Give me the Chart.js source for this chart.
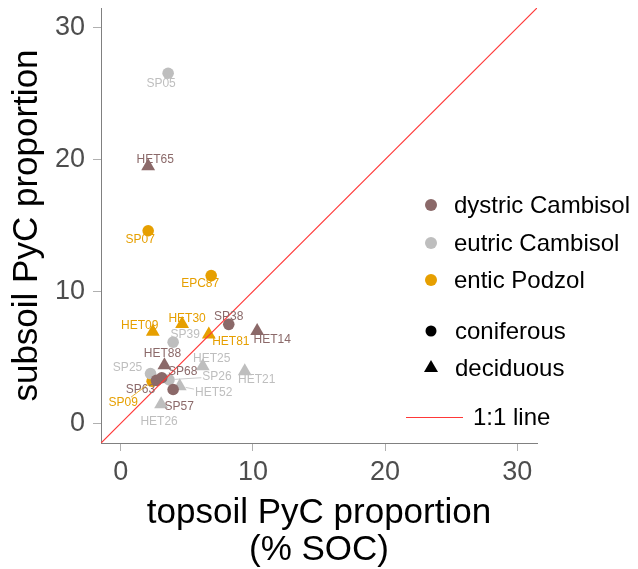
<!DOCTYPE html>
<html>
<head>
<meta charset="utf-8">
<script src="https://cdn.jsdelivr.net/npm/chart.js@4.4.0/dist/chart.umd.min.js"></script>
<style>
  body { margin: 0; background: #fff; }
  #wrap { width: 638px; height: 569px; }
</style>
</head>
<body>
<div id="wrap"><canvas id="pycChart" width="638" height="569"></canvas></div>
<script>
// valores (% SOC)
var sampleIds = ['HET65', 'SP38', 'HET14', 'HET88', 'SP63', 'SP68', 'SP57',
                 'SP05', 'SP39', 'HET25', 'HET21', 'SP25', 'SP26', 'HET52', 'HET26',
                 'SP07', 'EPC87', 'HET30', 'HET09', 'HET81', 'SP09'];
var topsoil = [2.07, 8.17, 10.32, 3.3, 2.7, 3.1, 3.96,
               3.58, 3.96, 6.2, 9.38, 2.25, 3.65, 4.46, 3.05,
               2.07, 6.84, 4.64, 2.42, 6.66, 2.37];
var subsoil = [19.5, 7.5, 6.99, 4.4, 3.25, 3.45, 2.56,
               26.55, 6.15, 4.33, 3.95, 3.77, 3.3, 2.81, 1.44,
               14.6, 11.2, 7.52, 6.94, 6.73, 3.19];
var soilType = ['dystric Cambisol', 'dystric Cambisol', 'dystric Cambisol', 'dystric Cambisol', 'dystric Cambisol', 'dystric Cambisol', 'dystric Cambisol',
                'eutric Cambisol', 'eutric Cambisol', 'eutric Cambisol', 'eutric Cambisol', 'eutric Cambisol', 'eutric Cambisol', 'eutric Cambisol', 'eutric Cambisol',
                'entic Podzol', 'entic Podzol', 'entic Podzol', 'entic Podzol', 'entic Podzol', 'entic Podzol'];
var forestType = ['deciduous', 'coniferous', 'deciduous', 'deciduous', 'coniferous', 'coniferous', 'coniferous',
                  'coniferous', 'coniferous', 'deciduous', 'deciduous', 'coniferous', 'coniferous', 'deciduous', 'deciduous',
                  'coniferous', 'coniferous', 'deciduous', 'deciduous', 'deciduous', 'coniferous'];
var soilTypes = ['dystric Cambisol', 'eutric Cambisol', 'entic Podzol'];
var forestTypes = ['coniferous', 'deciduous'];
var axisTicks = [0, 10, 20, 30];

// estilos
var soilColors = { 'dystric Cambisol': '#8B6969', 'eutric Cambisol': '#BEBEBE', 'entic Podzol': '#E69F00' };
var forestShapes = { 'coniferous': 'circle', 'deciduous': 'triangle' };
var lineColor = '#FF3838';
var FONT = "'Liberation Sans', Arial, sans-serif";

// desplazamiento de etiquetas (px) para que no se pisen, como ggrepel
var labelOffsets = {
    HET65: [7, -6], SP38: [0, -8], HET14: [15, 9], HET88: [-2, -12], SP63: [-16, 9], SP68: [21, -6],
    SP57: [6, 17], SP05: [-7, 10], SP39: [12, -7], HET25: [9, -7], HET21: [12, 9], SP25: [-23, -6],
    SP26: [48, -3], HET52: [34, 7], HET26: [-2, 17], SP07: [-8, 9], EPC87: [-11, 8], HET30: [5, -5],
    HET09: [-13, -6], HET81: [22, 7], SP09: [-29, 22]
};

function puntosDeSuelo(tipo) {
    var pts = [];
    for (var i = 0; i < sampleIds.length; i++) {
        if (soilType[i] === tipo) {
            pts.push({ x: topsoil[i], y: subsoil[i], id: sampleIds[i], forest: forestType[i] });
        }
    }
    return pts;
}

var datasets = [{
    label: '1:1 line',
    type: 'line',
    data: [{ x: -1.5, y: -1.5 }, { x: 31.5, y: 31.5 }],
    borderColor: lineColor,
    borderWidth: 1.2,
    pointRadius: 0,
    fill: false
}];
soilTypes.forEach(function(tipo) {
    var pts = puntosDeSuelo(tipo);
    datasets.push({
        label: tipo,
        data: pts,
        backgroundColor: soilColors[tipo],
        borderColor: soilColors[tipo],
        borderWidth: 0,
        pointStyle: pts.map(function(p) { return forestShapes[p.forest]; }),
        pointRadius: pts.map(function(p) { return p.forest === 'deciduous' ? 8 : 5.8; })
    });
});

// etiquetas de las muestras
var etiquetasPlugin = {
    id: 'etiquetas',
    afterDatasetsDraw: function(chart) {
        var ctx = chart.ctx;
        var xs = chart.scales.x, ys = chart.scales.y;
        ctx.save();
        ctx.font = '12px ' + FONT;
        ctx.textAlign = 'center';
        ctx.textBaseline = 'middle';
        for (var i = 0; i < sampleIds.length; i++) {
            var px = xs.getPixelForValue(topsoil[i]);
            var py = ys.getPixelForValue(subsoil[i]);
            var off = labelOffsets[sampleIds[i]];
            var lx = px + off[0], ly = py + off[1];
            var color = soilColors[soilType[i]];
            var d = Math.sqrt(off[0] * off[0] + off[1] * off[1]);
            if (d > 28) {
                var w = ctx.measureText(sampleIds[i]).width / 2 + 1;
                var h = 6;
                var dx = px - lx, dy = py - ly;
                var t = Math.min(w / Math.abs(dx || 1e-6), h / Math.abs(dy || 1e-6));
                ctx.strokeStyle = color;
                ctx.lineWidth = 0.8;
                ctx.beginPath();
                ctx.moveTo(px - dx / d * 6, py - dy / d * 6);
                ctx.lineTo(lx + dx * t, ly + dy * t);
                ctx.stroke();
            }
            ctx.fillStyle = color;
            ctx.fillText(sampleIds[i], lx, ly);
        }
        ctx.restore();
    },
    afterDraw: function(chart) {
        var ctx = chart.ctx;
        ctx.save();
        ctx.font = '24px ' + FONT;
        ctx.textBaseline = 'middle';
        ctx.textAlign = 'left';
        var yy = [205, 243, 280];
        soilTypes.forEach(function(tipo, k) {
            ctx.fillStyle = soilColors[tipo];
            ctx.beginPath();
            ctx.arc(431, yy[k], 6, 0, Math.PI * 2);
            ctx.fill();
            ctx.fillStyle = '#000';
            ctx.fillText(tipo, 454, yy[k] + 1);
        });
        var fy = [331, 368];
        forestTypes.forEach(function(f, k) {
            ctx.fillStyle = '#000';
            ctx.beginPath();
            if (forestShapes[f] === 'circle') {
                ctx.arc(431, fy[k], 5.5, 0, Math.PI * 2);
            } else {
                ctx.moveTo(431, fy[k] - 8);
                ctx.lineTo(438, fy[k] + 4);
                ctx.lineTo(424, fy[k] + 4);
                ctx.closePath();
            }
            ctx.fill();
            ctx.fillText(f, 455, fy[k] + 1);
        });
        ctx.strokeStyle = lineColor;
        ctx.lineWidth = 1;
        ctx.beginPath();
        ctx.moveTo(406, 417.5);
        ctx.lineTo(463, 417.5);
        ctx.stroke();
        ctx.fillStyle = '#000';
        ctx.fillText('1:1 line', 473, 418);
        ctx.restore();
    }
};

function fijarTicks(axis) {
    axis.ticks = axisTicks.map(function(v) { return { value: v }; });
}

var pycChart = new Chart(document.getElementById('pycChart'), {
    type: 'scatter',
    data: { datasets: datasets },
    plugins: [etiquetasPlugin],
    options: {
        responsive: false,
        animation: false,
        layout: { padding: { top: 8, right: 101, left: 0, bottom: 0 } },
        plugins: {
            legend: { display: false },
            tooltip: { enabled: false }
        },
        scales: {
            x: {
                type: 'linear',
                min: -1.5,
                max: 31.5,
                afterBuildTicks: fijarTicks,
                afterFit: function(s) { s.height = 126; s.paddingLeft = 0; s.paddingRight = 0; },
                grid: { drawOnChartArea: false, tickLength: 8, tickColor: '#B0B0B0', tickWidth: 1 },
                border: { display: true, color: '#808080', width: 1 },
                ticks: { padding: 5, color: '#4D4D4D', font: { family: FONT, size: 27 }, maxRotation: 0 },
                title: {
                    display: true,
                    text: ['topsoil PyC proportion', '(% SOC)'],
                    color: '#000',
                    font: { family: FONT, size: 35, lineHeight: '37px' },
                    padding: { top: 0, bottom: 0 }
                }
            },
            y: {
                type: 'linear',
                min: -1.5,
                max: 31.5,
                afterBuildTicks: fijarTicks,
                afterFit: function(s) { s.width = 101; s.paddingTop = 0; s.paddingBottom = 0; },
                grid: { drawOnChartArea: false, tickLength: 8, tickColor: '#B0B0B0', tickWidth: 1 },
                border: { display: true, color: '#808080', width: 1 },
                ticks: { padding: 8, color: '#4D4D4D', font: { family: FONT, size: 27 } },
                title: {
                    display: true,
                    text: 'subsoil PyC proportion',
                    color: '#000',
                    font: { family: FONT, size: 35, lineHeight: '37px' },
                    padding: { top: 9, bottom: 0 }
                }
            }
        }
    }
});
</script>
</body>
</html>
